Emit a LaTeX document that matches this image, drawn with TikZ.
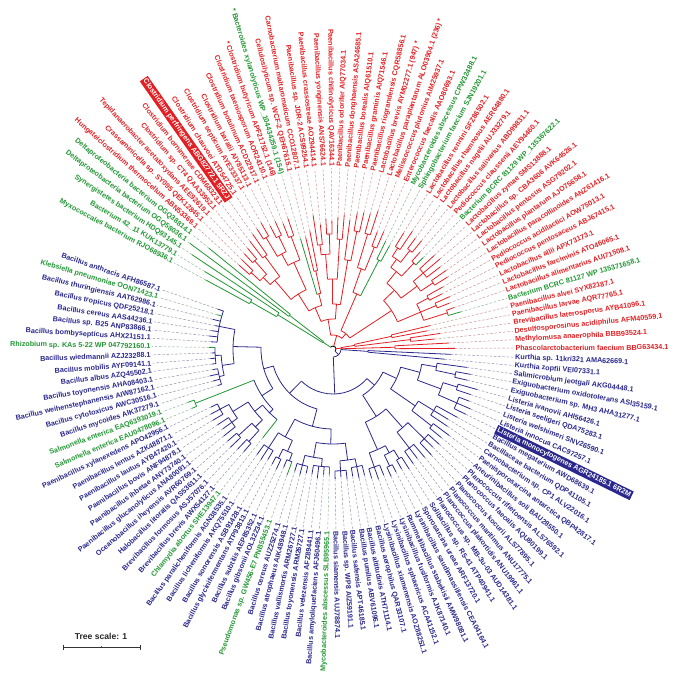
\documentclass[tikz,border=0pt]{standalone}
\usepackage{fontspec}
\setmainfont{Liberation Sans}
\definecolor{tred}{RGB}{226,32,36}
\definecolor{tblue}{RGB}{42,40,140}
\definecolor{tgreen}{RGB}{34,150,52}
\def\Rl{182}
\newcommand\tnode[5]{%
  \pgfmathsetmacro\aA{an(#2)}%
  \pgfmathsetmacro\aB{an(#3)}%
  \pgfmathsetmacro\aM{(\aA+\aB)/2}%
  \draw[br,#1] (\aM:#4) -- (\aM:#5);
  \draw[br,#1] (\aA:#5) arc[start angle=\aA,end angle=\aB,radius=#5];
}
\newcommand\tleaf[4]{%
  \pgfmathsetmacro\aA{an(#2)}%
  \draw[br,#1] (\aA:#3) -- (\aA:#4);
  \draw[dsh,#1!45!gray!70] (\aA:#4) -- (\aA:\Rl-1);
}
\newcommand\tlab[3]{%
  \pgfmathsetmacro\aA{an(#1)}%
  \pgfmathtruncatemacro\isL{and(\aA>90,\aA<270)}%
  \ifnum\isL=1
    \node[lab,text=#2,anchor=east,rotate=\aA-180] (L#1) at (\aA:\Rl) {#3};
  \else
    \node[lab,text=#2,anchor=west,rotate=\aA] (L#1) at (\aA:\Rl) {#3};
  \fi
}
\newcommand\thlab[3]{%
  \pgfmathsetmacro\aA{an(#1)}%
  \pgfmathtruncatemacro\isL{and(\aA>90,\aA<270)}%
  \ifnum\isL=1
    \node[lab,fill=#2,text=white,inner sep=1.4pt,anchor=east,rotate=\aA-180] (L#1) at (\aA:\Rl) {#3};
  \else
    \node[lab,fill=#2,text=white,inner sep=1.4pt,anchor=west,rotate=\aA] (L#1) at (\aA:\Rl) {#3};
  \fi
}
\begin{document}
\begin{tikzpicture}[x=1pt,y=1pt,
  declare function={an(\k)=ifthenelse(\k<57.5,0.3+2.653*\k,8.94+2.62*\k);},
  lab/.style={font=\fontsize{7.2}{8}\selectfont\bfseries,inner sep=0.5pt,outer sep=0pt},
  br/.style={line width=0.8pt},
  dsh/.style={line width=0.45pt,dash pattern=on 2.5pt off 1.8pt}]
\useasboundingbox (-333,-336) rectangle (343,349);
% ---------- root ----------
\pgfmathsetmacro\rA{an(116.5)-360}
\pgfmathsetmacro\rB{an(54.625)}
\draw[br,black] (\rA:3) arc[start angle=\rA,end angle=\rB,radius=3];
% ---------- red clade ----------
\tnode{tred}{0.5}{3.5}{3}{8}
\tnode{tred}{0}{1}{8}{62}
\tleaf{tred}{0}{62}{122}
\tleaf{tred}{1}{62}{116}
\tnode{tred}{2.5}{4.5}{8}{22}
\tnode{tred}{2}{3}{22}{78}
\tleaf{tred}{2}{78}{102}
\tleaf{tred}{3}{78}{108}
\tnode{tred}{4}{5}{22}{60}
\tleaf{tred}{4}{60}{96}
\tleaf{tred}{5}{60}{100}
\tnode{tred}{18.72}{37.375}{3}{14}
\tnode{tred}{12.4375}{25}{14}{20}
\tnode{tred}{8.5}{16.375}{20}{70}
\tnode{tred}{6.5}{10.5}{70}{95}
\tnode{tred}{6}{7}{95}{120}
\tleaf{tgreen}{6}{120}{133}
\tleaf{tred}{7}{120}{128}
\tnode{tred}{8}{9}{95}{112}
\tleaf{tred}{8}{112}{125}
\tleaf{tred}{9}{112}{128}
\tnode{tred}{10}{11}{95}{108}
\tleaf{tred}{10}{108}{122}
\tleaf{tred}{11}{108}{126}
\tnode{tred}{13.75}{19}{70}{85}
\tnode{tred}{12.5}{15}{85}{105}
\tnode{tred}{12}{13}{105}{120}
\tleaf{tred}{12}{120}{135}
\tleaf{tred}{13}{120}{138}
\tnode{tred}{14}{16}{105}{118}
\tleaf{tred}{14}{118}{135}
\tleaf{tred}{15}{118}{140}
\tleaf{tred}{16}{118}{138}
\tnode{tred}{17.5}{20.5}{85}{100}
\tnode{tred}{17}{18}{100}{118}
\tleaf{tgreen}{17}{118}{128}
\tleaf{tred}{18}{118}{130}
\tnode{tred}{19.5}{21.5}{100}{110}
\tnode{tred}{19}{20}{110}{125}
\tleaf{tred}{19}{125}{140}
\tleaf{tred}{20}{125}{138}
\tnode{tred}{21}{22}{110}{120}
\tleaf{tred}{21}{120}{142}
\tleaf{tred}{22}{120}{136}
\tnode{tred}{23.5}{26.5}{20}{60}
\tnode{tgreen}{23}{24}{60}{100}
\tleaf{tgreen}{23}{100}{118}
\tleaf{tgreen}{24}{100}{120}
\tnode{tred}{25.5}{27.5}{60}{85}
\tnode{tred}{25}{26}{85}{110}
\tleaf{tred}{25}{110}{128}
\tleaf{tred}{26}{110}{125}
\tnode{tred}{27}{28}{85}{120}
\tleaf{tred}{27}{120}{145}
\tleaf{tred}{28}{120}{140}
\tnode{tred}{32.125}{42.625}{14}{30}
\tnode{tred}{30.25}{34}{30}{45}
\tnode{tred}{29.5}{31}{45}{90}
\tnode{tred}{29}{30}{90}{120}
\tleaf{tred}{29}{120}{140}
\tleaf{tred}{30}{120}{138}
\tleaf{tred}{31}{90}{130}
\tnode{tred}{32.5}{35.5}{45}{70}
\tnode{tred}{32}{33}{70}{110}
\tleaf{tred}{32}{110}{135}
\tleaf{tred}{33}{110}{132}
\tnode{tred}{34.5}{36.5}{70}{95}
\tnode{tred}{34}{35}{95}{115}
\tleaf{tred}{34}{115}{128}
\tleaf{tred}{35}{115}{130}
\tnode{tred}{36}{37}{95}{105}
\tleaf{tred}{36}{105}{125}
\tleaf{tred}{37}{105}{135}
\tnode{tred}{39.25}{46}{30}{45}
\tnode{tred}{38.5}{40}{45}{57}
\tnode{tred}{38}{39}{57}{80}
\tleaf{tred}{38}{80}{120}
\tleaf{tred}{39}{80}{115}
\tleaf{tgreen}{40}{57}{115}
\tnode{tred}{43}{49}{45}{65}
\tnode{tred}{41.5}{44.5}{65}{95}
\tnode{tred}{41}{42}{95}{120}
\tleaf{tred}{41}{120}{138}
\tleaf{tred}{42}{120}{135}
\tnode{tred}{43.5}{45.5}{95}{108}
\tnode{tred}{43}{44}{108}{125}
\tleaf{tred}{43}{125}{140}
\tleaf{tred}{44}{125}{138}
\tnode{tred}{45}{46}{108}{130}
\tleaf{tred}{45}{130}{145}
\tleaf{tred}{46}{130}{142}
\tnode{tred}{47.5}{50.5}{65}{90}
\tnode{tred}{47}{48}{90}{115}
\tleaf{tred}{47}{115}{140}
\tleaf{tred}{48}{115}{136}
\tnode{tred}{49.5}{51.5}{90}{100}
\tnode{tred}{49}{50}{100}{118}
\tleaf{tred}{49}{118}{132}
\tleaf{tred}{50}{118}{130}
\tnode{tred}{51}{52}{100}{112}
\tleaf{tred}{51}{112}{128}
\tleaf{tred}{52}{112}{126}
% ---------- green outgroup ----------
\tnode{tgreen}{53.5}{55.75}{3}{12}
\tnode{tgreen}{53}{54}{12}{55}
\tleaf{tgreen}{53}{55}{160}
\tleaf{tgreen}{54}{55}{178}
\tnode{tgreen}{55}{56.5}{12}{65}
\tleaf{tgreen}{55}{65}{170}
\tnode{tgreen}{56}{57}{65}{95}
\tleaf{tgreen}{56}{95}{150}
\tleaf{tgreen}{57}{95}{145}
% ---------- blue clade ----------
\tnode{tblue}{100.49}{132.5}{3}{8}
\tnode{tblue}{132}{133}{8}{35}
\tleaf{tblue}{132}{35}{112}
\tleaf{tblue}{133}{35}{118}
\tnode{tblue}{82.66}{118.31}{8}{45}
\tnode{tblue}{71.375}{93.94}{45}{62}
\tnode{tblue}{64.75}{78}{62}{72}
\tnode{tblue}{61}{68.5}{72}{100}
\tnode{tblue}{58}{64}{100}{116}
\tleaf{tblue}{58}{116}{122}
\tleaf{tgreen}{59}{116}{121}
\tleaf{tblue}{60}{116}{124}
\tleaf{tblue}{61}{116}{120}
\tleaf{tblue}{62}{116}{123}
\tleaf{tblue}{63}{116}{125}
\tleaf{tblue}{64}{116}{122}
\tnode{tblue}{66.5}{70.5}{100}{112}
\tnode{tblue}{65}{68}{112}{118}
\tleaf{tgreen}{65}{118}{124}
\tleaf{tblue}{66}{118}{121}
\tleaf{tblue}{67}{118}{123}
\tleaf{tblue}{68}{118}{122}
\tnode{tblue}{69}{72}{112}{117}
\tleaf{tblue}{69}{117}{122}
\tleaf{tblue}{70}{117}{126}
\tleaf{tblue}{71}{117}{124}
\tleaf{tblue}{72}{117}{121}
\tnode{tblue}{73.5}{82.5}{72}{85}
\tnode{tgreen}{73}{74}{85}{148}
\tleaf{tgreen}{73}{148}{155}
\tleaf{tgreen}{74}{148}{153}
\tnode{tblue}{80}{85}{85}{90}
\tnode{tblue}{77.5}{82.5}{90}{100}
\tnode{tblue}{76}{79}{100}{118}
\tnode{tblue}{75}{77}{118}{128}
\tleaf{tblue}{75}{128}{135}
\tleaf{tblue}{76}{128}{138}
\tleaf{tblue}{77}{128}{140}
\tnode{tblue}{78}{80}{118}{125}
\tleaf{tblue}{78}{125}{138}
\tleaf{tblue}{79}{125}{136}
\tleaf{tblue}{80}{125}{140}
\tnode{tblue}{81.5}{83.5}{100}{110}
\tnode{tblue}{81}{82}{110}{128}
\tleaf{tblue}{81}{128}{140}
\tleaf{tblue}{82}{128}{142}
\tnode{tblue}{83}{84}{110}{125}
\tleaf{tblue}{83}{125}{138}
\tleaf{tblue}{84}{125}{136}
\tleaf{tgreen}{85}{90}{113}
\tnode{tblue}{88.75}{99.125}{62}{80}
\tnode{tblue}{87}{90.5}{80}{100}
\tnode{tblue}{86}{88}{100}{118}
\tleaf{tblue}{86}{118}{130}
\tleaf{tblue}{87}{118}{132}
\tleaf{tblue}{88}{118}{128}
\tnode{tblue}{89.5}{91.5}{100}{112}
\tnode{tblue}{89}{90}{112}{122}
\tleaf{tblue}{89}{122}{130}
\tleaf{tblue}{90}{122}{133}
\tnode{tblue}{91}{92}{112}{120}
\tleaf{tblue}{91}{120}{128}
\tleaf{tgreen}{92}{120}{134}
\tnode{tblue}{95.75}{102.5}{80}{95}
\tnode{tblue}{94}{97.5}{95}{110}
\tnode{tblue}{93}{95}{110}{120}
\tleaf{tblue}{93}{120}{128}
\tleaf{tblue}{94}{120}{130}
\tleaf{tblue}{95}{120}{127}
\tnode{tblue}{96}{99}{110}{118}
\tleaf{tblue}{96}{118}{127}
\tleaf{tblue}{97}{118}{130}
\tleaf{tblue}{98}{118}{126}
\tleaf{tgreen}{99}{118}{126}
\tnode{tblue}{101}{104}{95}{112}
\tnode{tblue}{100}{102}{112}{122}
\tleaf{tblue}{100}{122}{130}
\tleaf{tblue}{101}{122}{128}
\tleaf{tblue}{102}{122}{131}
\tnode{tblue}{103}{105}{112}{120}
\tleaf{tblue}{103}{120}{129}
\tleaf{tblue}{104}{120}{132}
\tleaf{tblue}{105}{120}{130}
\tnode{tblue}{112.125}{124.5}{45}{55}
\tnode{tblue}{108.75}{115.5}{55}{80}
\tnode{tblue}{107}{110.5}{80}{110}
\tnode{tblue}{106}{108}{110}{125}
\tleaf{tblue}{106}{125}{135}
\tleaf{tblue}{107}{125}{138}
\tleaf{tblue}{108}{125}{136}
\tnode{tblue}{109.5}{111.5}{110}{118}
\tnode{tblue}{109}{110}{118}{130}
\tleaf{tblue}{109}{130}{140}
\tleaf{tblue}{110}{130}{138}
\tnode{tblue}{111}{112}{118}{128}
\tleaf{tblue}{111}{128}{138}
\tleaf{tblue}{112}{128}{142}
\tnode{tblue}{114}{117}{80}{105}
\tnode{tblue}{113}{115}{105}{125}
\tleaf{tblue}{113}{125}{140}
\tleaf{tblue}{114}{125}{138}
\tleaf{tblue}{115}{125}{142}
\tnode{tblue}{116}{118}{105}{128}
\tleaf{tblue}{116}{128}{145}
\tleaf{tblue}{117}{128}{140}
\tleaf{tblue}{118}{128}{143}
\tnode{tblue}{120.75}{128.25}{55}{70}
\tnode{tblue}{119.5}{122}{70}{100}
\tnode{tblue}{119}{120}{100}{125}
\tleaf{tblue}{119}{125}{140}
\tleaf{tblue}{120}{125}{145}
\tnode{tblue}{121}{123}{100}{118}
\tleaf{tblue}{121}{118}{138}
\tleaf{tblue}{122}{118}{135}
\tleaf{tblue}{123}{118}{142}
\tnode{tblue}{126.25}{130.25}{70}{90}
\tnode{tblue}{125}{127.5}{90}{115}
\tnode{tblue}{124}{126}{115}{135}
\tleaf{tblue}{124}{135}{148}
\tleaf{tblue}{125}{135}{150}
\tleaf{tblue}{126}{135}{146}
\tnode{tblue}{127}{128}{115}{130}
\tleaf{tblue}{127}{130}{145}
\tleaf{tblue}{128}{130}{150}
\tnode{tblue}{129.5}{131}{90}{105}
\tnode{tblue}{129}{130}{105}{125}
\tleaf{tblue}{129}{125}{138}
\tleaf{tblue}{130}{125}{140}
\tleaf{tblue}{131}{105}{135}
% ---------- labels: red side ----------
\tlab{0}{tred}{Phascolarctobacterium faecium BBG63434.1}
\tlab{1}{tred}{Methylomusa anaerophila BBB93524.1}
\tlab{2}{tred}{Desulfosporosinus acidiphilus AFM40559.1}
\tlab{3}{tred}{Brevibacillus laterosporus AYB41096.1}
\tlab{4}{tred}{Paenibacillus larvae AQR77765.1}
\tlab{5}{tred}{Paenibacillus alvei SYX82187.1}
\tlab{6}{tgreen}{Bacterium BCRC 81127 WP 135371658.1}
\tlab{7}{tred}{Lactobacillus alimentarius AUI71508.1}
\tlab{8}{tred}{Lactobacillus farciminis ATO46065.1}
\tlab{9}{tred}{Lactobacillus allii APX73173.1}
\tlab{10}{tred}{Pediococcus pentosaceus ABJ67415.1}
\tlab{11}{tred}{Pediococcus acidilactici AOW75013.1}
\tlab{12}{tred}{Lactobacillus paracollinoides ANZ61416.1}
\tlab{13}{tred}{Lactobacillus plantarum AJO75658.1}
\tlab{14}{tred}{Lactobacillus pentosus ASG79202.1}
\tlab{15}{tred}{Lactobacillus sp. CBA3606 AVK64526.1}
\tlab{16}{tred}{Lactobacillus zymae SMS13888.1}
\tlab{17}{tgreen}{Bacterium BCRC 81129 WP\_135367622.1}
\tlab{18}{tred}{Pediococcus claussenii AEV94460.1}
\tlab{19}{tred}{Lactobacillus salivarius ABD99831.1}
\tlab{20}{tred}{Lactobacillus nagelii AUJ33279.1}
\tlab{21}{tred}{Lactobacillus rhamnosus AER64880.1}
\tlab{22}{tred}{Lactobacillus rennini SFZ86502.1}
\tlab{23}{tgreen}{Sphingobacterium faecium SJN19201.1}
\tlab{24}{tgreen}{Mycobacteroides abscessus CPW32488.1}
\tlab{25}{tred}{Enterococcus faecalis AAO80693.1}
\tlab{26}{tred}{Melissococcus plutonius AIM25937.1}
\tlab{27}{tred}{Lactobacillus paraplantarum ALO03904.1 (236) *}
\tlab{28}{tred}{Lactobacillus brevis AYM02277.1 (947) *}
\tlab{29}{tred}{Paenibacillus riograndensis CQR58856.1}
\tlab{30}{tred}{Paenibacillus graminis AIQ71546.1}
\tlab{31}{tred}{Paenibacillus borealis AIQ61510.1}
\tlab{32}{tred}{Paenibacillus donghaensis ASA24685.1}
\tlab{33}{tred}{Paenibacillus odorifer AIQ77034.1}
\tlab{34}{tred}{Paenibacillus chitinolyticus QAV16344.1}
\tlab{35}{tred}{Paenibacillus yonginensis ANS76624.1}
\tlab{36}{tred}{Paenibacillus crassostreae AOZ94414.1}
\tlab{37}{tred}{Paenibacillus sp. JDR-2 ACS99254.1}
\tlab{38}{tred}{Carnobacterium maltaromaticum CCO12807.1}
\tlab{39}{tred}{Cellulosilyticum sp. WCF-2 QEH67615.1}
\tlab{40}{tgreen}{* Bacteroides xylanolyticus WP\_104434259.1 (154)}
\tlab{41}{tred}{* Clostridium butyricum APF21752.1 (146)}
\tlab{42}{tred}{Clostridium taeniosporum AOR24110.1}
\tlab{43}{tred}{Clostridium botulinum ACD22917.1}
\tlab{44}{tred}{Clostridium baratii AIY85113.1}
\tlab{45}{tred}{Clostridium septicum AYE33337.1}
\tlab{46}{tred}{Clostridium chauvoei ATD54725.1}
\thlab{47}{tred}{Clostridium perfringens ABG82772.1 5RZJ}
\tlab{48}{tred}{Clostridium bornimense CDM68323.1}
\tlab{49}{tred}{Clostridium sp. CT4 QAA33952.1}
\tlab{50}{tred}{Tepidanaerobacter acetatoxydans AEE92619.1}
\tlab{51}{tred}{Crassaminicella sp. SY095 QEK12845.1}
\tlab{52}{tred}{Hungateiclostridium thermocellum ABN53369.1}
\tlab{53}{tgreen}{Deltaproteobacteria bacterium OGQ38814.1}
\tlab{54}{tgreen}{Deltaproteobacteria bacterium OGQ58036.1}
\tlab{55}{tgreen}{Synergistetes bacterium HDQ93145.1}
\tlab{56}{tgreen}{Bacterium 42\_11 KUK13779.1}
\tlab{57}{tgreen}{Myxococcales bacterium RJO68936.1}
% ---------- labels: blue side ----------
\tlab{58}{tblue}{Bacillus anthracis AFH86587.1}
\tlab{59}{tgreen}{Klebsiella pneumoniae OON71423.1}
\tlab{60}{tblue}{Bacillus thuringiensis AAT62986.1}
\tlab{61}{tblue}{Bacillus tropicus QDF25218.1}
\tlab{62}{tblue}{Bacillus cereus AAS44236.1}
\tlab{63}{tblue}{Bacillus sp. B25 ANP83866.1}
\tlab{64}{tblue}{Bacillus bombysepticus AHX21151.1}
\tlab{65}{tgreen}{Rhizobium sp. KAs 5-22 WP 047792160.1}
\tlab{66}{tblue}{Bacillus wiedmannii AZJ23288.1}
\tlab{67}{tblue}{Bacillus mobilis AYF09141.1}
\tlab{68}{tblue}{Bacillus albus AZQ45502.1}
\tlab{69}{tblue}{Bacillus toyonensis AHA08403.1}
\tlab{70}{tblue}{Bacillus weihenstephanensis AIW87162.1}
\tlab{71}{tblue}{Bacillus cytotoxicus AWC30516.1}
\tlab{72}{tblue}{Bacillus mycoides AIK37279.1}
\tlab{73}{tgreen}{Salmonella enterica EAQ6393019.1}
\tlab{74}{tgreen}{Salmonella enterica EAU0478096.1}
\tlab{75}{tblue}{Paenibacillus xylanexedens APO42956.1}
\tlab{76}{tblue}{Paenibacillus lentus AZK48871.1}
\tlab{77}{tblue}{Paenibacillus lautus AYB47420.1}
\tlab{78}{tblue}{Paenibacillus bovis ANF94878.1}
\tlab{79}{tblue}{Paenibacillus ihbetae ANY73740.1}
\tlab{80}{tblue}{Paenibacillus glucanolyticus ANA80091.1}
\tlab{81}{tblue}{Oceanobacillus iheyensis AVR60769.1}
\tlab{82}{tblue}{Halobacillus litoralis QAS53611.1}
\tlab{83}{tblue}{Brevibacillus formosus ASJ57076.1}
\tlab{84}{tblue}{Brevibacillus brevis AWX54127.1}
\tlab{85}{tgreen}{Chlamydia abortus SHE13947.1}
\tlab{86}{tblue}{Bacillus paralicheniformis AGN38535.1}
\tlab{87}{tblue}{Bacillus licheniformis AKQ75510.1}
\tlab{88}{tblue}{Bacillus sonorensis ASB91428.1}
\tlab{89}{tblue}{Bacillus glycinifermentans ATP93813.1}
\tlab{90}{tblue}{Bacillus subtilis AEP85352.1}
\tlab{91}{tblue}{Bacillus gibsonii AOL32234.1}
\tlab{92}{tgreen}{Pseudomonas sp. GW456-E7 PNB55453.1}
\tlab{93}{tblue}{Bacillus cereus AUZ25274.1}
\tlab{94}{tblue}{Bacillus atrophaeus AIK48948.1}
\tlab{95}{tblue}{Bacillus vallismortis ARM26727.1}
\tlab{96}{tblue}{Bacillus toyonensis ARM26727.1}
\tlab{97}{tblue}{Bacillus velezensis AFZ89441.1}
\tlab{98}{tblue}{Bacillus amyloliquefaciens AFJ60496.1}
\tlab{99}{tgreen}{Mycobacteroides abscessus SLB95965.1}
\tlab{100}{tblue}{Bacillus siamensis AUJ78874.1}
\tlab{101}{tblue}{Bacillus sp. WP8 AIZ59191.1}
\tlab{102}{tblue}{Bacillus safensis APT46185.1}
\tlab{103}{tblue}{Bacillus pumilus ABV61096.1}
\tlab{104}{tblue}{Bacillus altitudinis ATH71114.1}
\tlab{105}{tblue}{Bacillus aerophilus QAR33107.1}
\tlab{106}{tblue}{Lysinibacillus xiamenensis AOZ88251.1}
\tlab{107}{tblue}{Lysinibacillus sphaericus ACA41152.1}
\tlab{108}{tblue}{Lysinibacillus fusiformis AJK87140.1}
\tlab{109}{tblue}{Rummeliibacillus stabekisii AMW98081.1}
\tlab{110}{tblue}{Lysinibacillus saudimassiliensis CEA04164.1}
\tlab{111}{tblue}{Sporosarcina ureae ARF13720.1}
\tlab{112}{tblue}{Solibacillus sp. R5-41 ATP40941.1}
\tlab{113}{tblue}{Planococcus sp. MB-3u-03 AUD14381.1}
\tlab{114}{tblue}{Planococcus plakortidis ANU19961.1}
\tlab{115}{tblue}{Planococcus maritimus ANU17775.1}
\tlab{116}{tblue}{Planococcus kocurii ALS77895.1}
\tlab{117}{tblue}{Planococcus faecalis AQU80199.1}
\tlab{118}{tblue}{Planococcus rifietoensis ALS76592.1}
\tlab{119}{tblue}{Aneurinibacillus soli BAU28550.1}
\tlab{120}{tblue}{Paenisporosarcina antarctica QBP42817.1}
\tlab{121}{tblue}{Carnobacterium sp. CP1 ALV22016.1}
\tlab{122}{tblue}{Bacillaceae bacterium QDP41105.1}
\tlab{123}{tblue}{Bacillus megaterium AWD68639.1}
\thlab{124}{tblue}{Listeria monocytogenes AGR24185.1 6R2M}
\tlab{125}{tblue}{Listeria innocua CAC97257.1}
\tlab{126}{tblue}{Listeria welshimeri SNV26590.1}
\tlab{127}{tblue}{Listeria seeligeri QDA75283.1}
\tlab{128}{tblue}{Listeria ivanovii AHI56426.1}
\tlab{129}{tblue}{Exiguobacterium sp. MH3 AHA31277.1}
\tlab{130}{tblue}{Exiguobacterium oxidotolerans ASI35159.1}
\tlab{131}{tblue}{Salimicrobium jeotgali AKG04448.1}
\tlab{132}{tblue}{Kurthia zopfii VEI07331.1}
\tlab{133}{tblue}{Kurthia sp. 11kri321 AMA62669.1}
% ---------- tree scale ----------
\node[font=\fontsize{8.6}{10}\selectfont\bfseries,text=black!85] (ts) at (-232,-287) {Tree scale: 1};
\coordinate (sa) at (-270,-298);
\coordinate (sb) at (-193,-298);
\coordinate (sm) at (-231.5,-298);
\draw[line width=0.8pt,black!80] (sa) -- (sb);
\draw[line width=0.8pt,black!80] ([yshift=-2.5pt]sa) -- ([yshift=2.5pt]sa);
\draw[line width=0.8pt,black!80] ([yshift=-2.5pt]sb) -- ([yshift=2.5pt]sb);
\draw[line width=0.5pt,black!60] (sm) -- ([yshift=1.5pt]sm);
\end{tikzpicture}
\end{document}
